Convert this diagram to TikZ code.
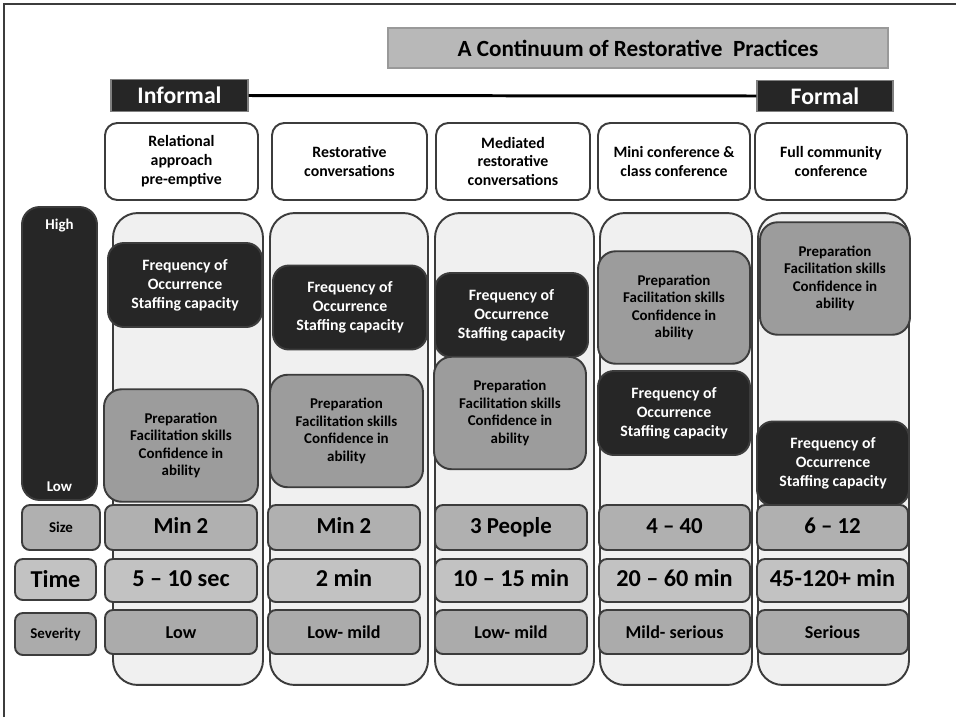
\documentclass[tikz,border=0pt]{standalone}
\usepackage{fontspec}
\setmainfont{Carlito}
\usetikzlibrary{positioning}
\definecolor{darkfill}{HTML}{262626}
\definecolor{edgegray}{HTML}{3C3C3C}
\definecolor{titlefill}{HTML}{B8B8B8}
\definecolor{colfill}{HTML}{F0F0F0}
\definecolor{prepfill}{HTML}{9C9C9C}
\definecolor{sizefill}{HTML}{B0B0B0}
\definecolor{timefill}{HTML}{C2C2C2}
\definecolor{sevfill}{HTML}{ABABAB}
\tikzstyle{tbox}=[rectangle, draw=gray!80, fill=titlefill, line width=0.8pt,
                  minimum width=10cm, minimum height=0.8cm, text centered,
                  font=\fontsize{13.2}{15}\selectfont\bfseries]
\tikzstyle{ibox}=[rectangle, draw=gray, fill=darkfill, text=white, line width=0.8pt,
                  minimum height=0.63cm, text centered,
                  font=\fontsize{13.5}{15}\selectfont\bfseries]
\tikzstyle{hbox}=[rectangle, rounded corners=7pt, draw=edgegray, fill=white,
                  line width=1.1pt, minimum height=1.54cm, inner sep=2pt, align=center,
                  font=\fontsize{9}{10.8}\selectfont\bfseries]
\tikzstyle{colbox}=[rectangle, rounded corners=14pt, draw=edgegray, fill=colfill,
                  line width=1.1pt, minimum height=9.44cm]
\tikzstyle{freqbox}=[rectangle, rounded corners=9pt, draw=edgegray, fill=darkfill,
                  text=white, line width=1.1pt, minimum height=1.68cm, align=center,
                  font=\fontsize{9}{10.8}\selectfont\bfseries]
\tikzstyle{prepbox}=[rectangle, rounded corners=10pt, draw=edgegray, fill=prepfill,
                  line width=1.1pt, minimum height=2.25cm, align=center,
                  font=\fontsize{8.5}{9.9}\selectfont\bfseries]
\tikzstyle{sizebox}=[rectangle, rounded corners=4.5pt, draw=edgegray, fill=sizefill,
                  line width=1.1pt, minimum height=0.9cm, text centered,
                  text height=1.45ex, text depth=0pt,
                  font=\fontsize{13}{15}\selectfont\bfseries]
\tikzstyle{timebox}=[rectangle, rounded corners=4.5pt, draw=edgegray, fill=timefill,
                  line width=1.1pt, minimum height=0.86cm, text centered,
                  text height=1.45ex, text depth=0pt,
                  font=\fontsize{13.8}{15}\selectfont\bfseries]
\tikzstyle{sevbox}=[rectangle, rounded corners=4.5pt, draw=edgegray, fill=sevfill,
                  line width=1.1pt, minimum height=0.88cm, text centered,
                  text height=1.45ex, text depth=0pt,
                  font=\fontsize{10.3}{12}\selectfont\bfseries]
\tikzstyle{lblbox}=[rectangle, rounded corners=4.5pt, draw=edgegray, line width=1.1pt,
                  text centered, font=\fontsize{8.5}{10}\selectfont\bfseries]
\tikzstyle{pline}=[-, line width=1.7pt]
\begin{document}
\begin{tikzpicture}[x=0.02cm, y=-0.02cm]
\useasboundingbox (0,0) rectangle (956,717);
\draw[line width=1.2pt, edgegray] (4,717) -- (4,4) -- (956,4);

\node (TITLE) [tbox] at (638,48) {A Continuum of Restorative\ \ Practices};
\node (INF) [ibox, minimum width=2.74cm] at (179.5,95.5) {Informal};
\node (FRM) [ibox, minimum width=2.72cm] at (825,96) {Formal};
 \draw[pline] (INF.east) -- (FRM.west);

\node (HDRA) [hbox, minimum width=3.06cm] at (181.5,161.5) {Relational\\approach\\pre-emptive};
\node (HDRB) [hbox, minimum width=3.1cm] at (349.5,161.5) {Restorative\\conversations};
\node (HDRC) [hbox, minimum width=3.08cm] at (513,161.5) {Mediated\\restorative\\conversations};
\node (HDRD) [hbox, minimum width=3.04cm] at (674,161.5) {Mini conference \&\\class conference};
\node (HDRE) [hbox, minimum width=3.04cm] at (831,161.5) {Full community\\conference};

\node (COLA) [colbox, minimum width=3.0cm] at (188,449) {};
\node (COLB) [colbox, minimum width=3.16cm] at (349,449) {};
\node (COLC) [colbox, minimum width=3.18cm] at (514.5,449) {};
\node (COLD) [colbox, minimum width=3.04cm] at (676,449) {};
\node (COLE) [colbox, minimum width=3.02cm] at (833.5,449) {};

\node (HILO) [rectangle, rounded corners=10pt, draw=edgegray, fill=darkfill,
  line width=1.1pt, minimum width=1.5cm, minimum height=5.86cm] at (59.5,353.5) {};
\node (HIGH) [text=white, font=\fontsize{8.5}{10}\selectfont\bfseries,
  below=4pt of HILO.north] {High};
\node (LOW) [text=white, font=\fontsize{8.5}{10}\selectfont\bfseries,
  above=2pt of HILO.south] {Low};

\node (FREQA) [freqbox, minimum width=3.08cm] at (185,285) {Frequency of\\Occurrence\\Staffing capacity};
\node (FREQB) [freqbox, minimum width=3.08cm] at (350,307.5) {Frequency of\\Occurrence\\Staffing capacity};
\node (FREQC) [freqbox, minimum width=3.06cm] at (511.5,315) {Frequency of\\Occurrence\\Staffing capacity};
\node (FREQD) [freqbox, minimum width=3.04cm] at (674,413) {Frequency of\\Occurrence\\Staffing capacity};
\node (FREQE) [freqbox, minimum width=3.04cm] at (833,463.5) {Frequency of\\Occurrence\\Staffing capacity};

\node (PREPA) [prepbox, minimum width=3.08cm] at (181,445.5) {Preparation\\Facilitation skills\\Confidence in\\ability};
\node (PREPB) [prepbox, minimum width=3.06cm] at (346.5,431) {Preparation\\Facilitation skills\\Confidence in\\ability};
\node (PREPC) [prepbox, minimum width=3.04cm] at (510,413) {Preparation\\Facilitation skills\\Confidence in\\ability};
\node (PREPD) [prepbox, minimum width=3.04cm] at (674,307.5) {Preparation\\Facilitation skills\\Confidence in\\ability};
\node (PREPE) [prepbox, minimum width=3.0cm] at (835,278.5) {Preparation\\Facilitation skills\\Confidence in\\ability};

\node (SIZE) [lblbox, fill=sizefill, minimum width=1.56cm, minimum height=0.9cm] at (61,527.5) {Size};
\node (TIME) [lblbox, fill=timefill, minimum width=1.62cm, minimum height=0.82cm,
  font=\fontsize{13.8}{15}\selectfont\bfseries] at (55.5,579.5) {Time};
\node (SEV) [lblbox, fill=sevfill, minimum width=1.62cm, minimum height=0.84cm] at (55.5,634) {Severity};

\node (SIZEA) [sizebox, minimum width=3.04cm] at (181,527.5) {Min 2};
\node (SIZEB) [sizebox, minimum width=3.04cm] at (344,527.5) {Min 2};
\node (SIZEC) [sizebox, minimum width=3.04cm] at (511,527.5) {3 People};
\node (SIZED) [sizebox, minimum width=3.02cm] at (674.5,527.5) {4 -- 40};
\node (SIZEE) [sizebox, minimum width=3.02cm] at (832.5,527.5) {6 -- 12};

\node (TIMEA) [timebox, minimum width=3.04cm] at (181,580.5) {5 -- 10 sec};
\node (TIMEB) [timebox, minimum width=3.04cm] at (344,580.5) {2 min};
\node (TIMEC) [timebox, minimum width=3.04cm] at (511,580.5) {10 -- 15 min};
\node (TIMED) [timebox, minimum width=3.02cm] at (674.5,580.5) {20 -- 60 min};
\node (TIMEE) [timebox, minimum width=3.02cm] at (832.5,580.5) {45-120+ min};

\node (SEVA) [sevbox, minimum width=3.04cm] at (181,632) {Low};
\node (SEVB) [sevbox, minimum width=3.04cm] at (344,632) {Low- mild};
\node (SEVC) [sevbox, minimum width=3.04cm] at (511,632) {Low- mild};
\node (SEVD) [sevbox, minimum width=3.02cm] at (674.5,632) {Mild- serious};
\node (SEVE) [sevbox, minimum width=3.02cm] at (832.5,632) {Serious};

\end{tikzpicture}
\end{document}
